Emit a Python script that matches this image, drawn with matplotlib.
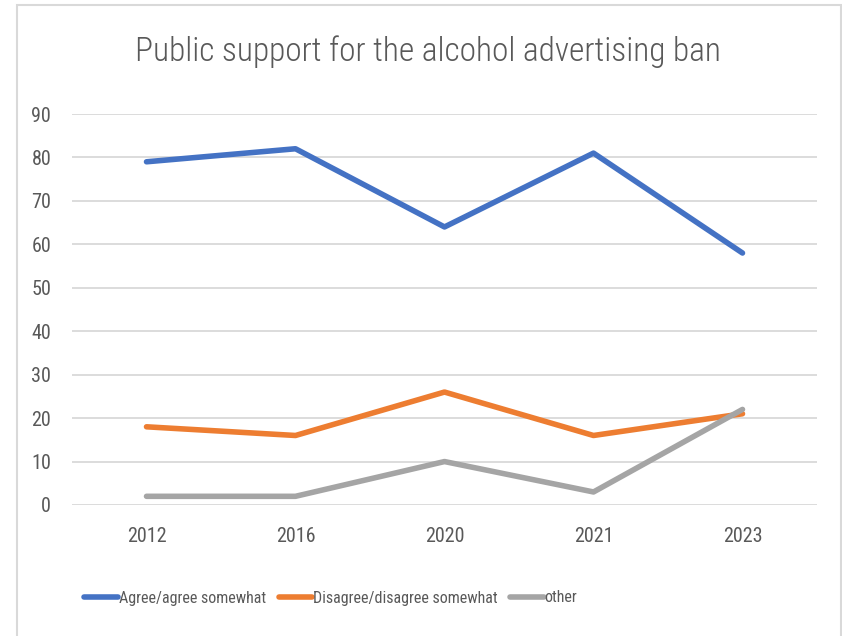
import matplotlib
matplotlib.use('Agg')
import matplotlib.pyplot as plt
from matplotlib.patches import Rectangle

years = ['2012', '2016', '2020', '2021', '2023']
agree = [79, 82, 64, 81, 58]
disagree = [18, 16, 26, 16, 21]
other = [2, 2, 10, 3, 22]
series_labels = ['Agree/agree somewhat', 'Disagree/disagree somewhat', 'other']
yticks = [0, 10, 20, 30, 40, 50, 60, 70, 80, 90]

plt.rcParams['font.family'] = ['Roboto Condensed', 'Liberation Sans Narrow', 'Lato', 'DejaVu Sans']
text_color = '#595959'

fig = plt.figure(figsize=(8.42, 6.36), dpi=100)
ax = fig.add_axes([72 / 842, 131 / 636, 745 / 842, 391 / 636])

x = range(len(years))
ax.plot(x, agree, color='#4472C4', lw=4, solid_capstyle='round', label=series_labels[0], zorder=3)
ax.plot(x, disagree, color='#ED7D31', lw=4, solid_capstyle='round', label=series_labels[1], zorder=3)
ax.plot(x, other, color='#A5A5A5', lw=4, solid_capstyle='round', label=series_labels[2], zorder=3)

ax.set_xlim(-0.5, len(years) - 0.5)
ax.set_ylim(0, 90)
ax.set_xticks(list(x))
ax.set_xticklabels(years)
ax.set_yticks(yticks)
ax.yaxis.grid(True, color='#D9D9D9', lw=1.3)
ax.set_axisbelow(True)
for s in ax.spines.values():
    s.set_visible(False)
ax.tick_params(length=0, labelsize=14.5, colors=text_color)
ax.tick_params(axis='x', pad=16)
ax.tick_params(axis='y', pad=15)

fig.text(428 / 842, 1 - 52 / 636, 'Public support for the alcohol advertising ban',
         ha='center', va='center', fontsize=24, color=text_color, fontweight='light')

fig.legend(loc='center left', bbox_to_anchor=(70 / 842, 1 - 598 / 636), ncol=3, frameon=False,
           fontsize=11.5, labelcolor=text_color, handlelength=2.1, handletextpad=0.05,
           columnspacing=0.8)

fig.patches.append(Rectangle((17 / 842, -0.05), 824 / 842, 1.05 - 5 / 636,
                             transform=fig.transFigure, fill=False, edgecolor='#D9D9D9', lw=1.5))

fig.savefig('out.png', dpi=100, facecolor='white')
